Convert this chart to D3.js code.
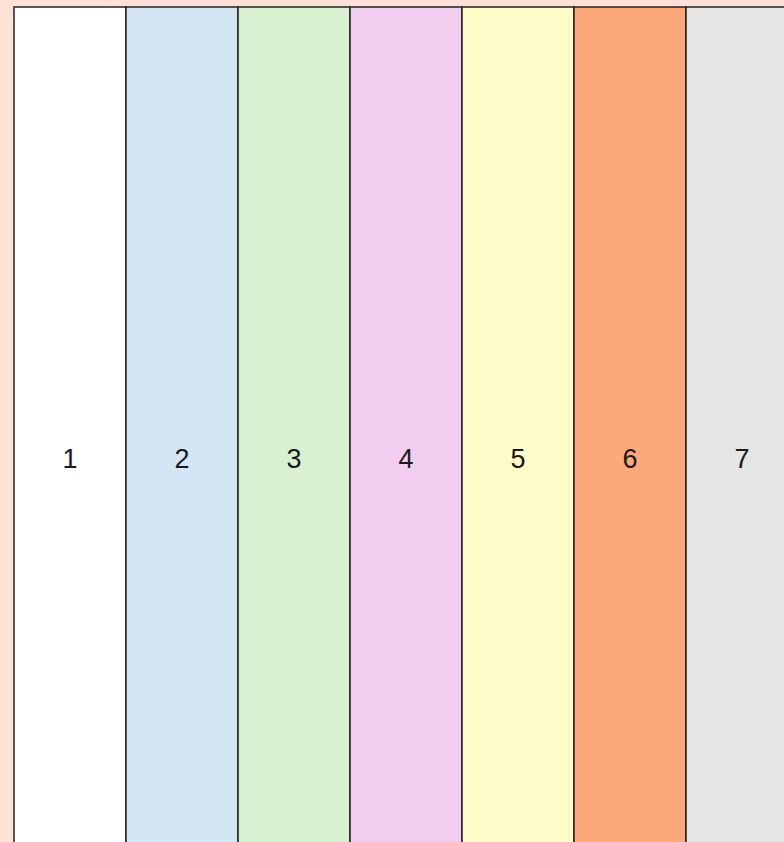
<!DOCTYPE html>
<html>
<head>
<meta charset="utf-8">
<script src="https://cdn.jsdelivr.net/npm/d3@7"></script>
<style>
  html, body { margin: 0; padding: 0; background: #fde1d7; overflow: hidden; }
</style>
</head>
<body>
<div id="chart"></div>
<script>
// column labels and fill colours
var labels = ['1', '2', '3', '4', '5', '6', '7'];
var colors = ['#ffffff', '#d4e5f5', '#d9f1d1', '#f1cdef', '#fefbc9', '#fda878', '#e5e5e5'];

var width = 784, height = 842;

var svg = d3.select('#chart').append('svg')
    .attr('width', width)
    .attr('height', height);

svg.append('rect')
    .attr('x', 0).attr('y', 0)
    .attr('width', width).attr('height', height)
    .attr('fill', '#fde1d7');

// columns are 112px wide starting at x=14, the last runs off the right edge
var x = d3.scaleBand()
    .domain(labels)
    .range([14, 14 + 112 * labels.length]);

var colTop = 7, colBottom = 860;

var cols = svg.append('g').selectAll('g')
    .data(labels)
    .enter()
    .append('g');

cols.append('rect')
    .attr('x', function(d) { return x(d); })
    .attr('y', colTop)
    .attr('width', x.bandwidth())
    .attr('height', colBottom - colTop)
    .attr('fill', function(d, i) { return colors[i]; })
    .attr('stroke', '#222')
    .attr('stroke-width', 1.5);

cols.append('text')
    .text(function(d) { return d; })
    .attr('x', function(d) { return x(d) + x.bandwidth() / 2; })
    .attr('y', 468)
    .attr('text-anchor', 'middle')
    .attr('font-family', 'Liberation Sans, Arial, sans-serif')
    .attr('font-size', 27)
    .attr('fill', '#1a1a1a');
</script>
</body>
</html>
